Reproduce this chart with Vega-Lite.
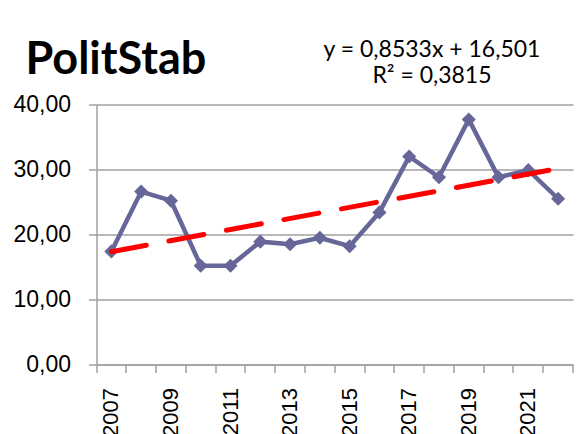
{
  "$schema": "https://vega.github.io/schema/vega-lite/v6.json",
  "autosize": {"type": "none"},
  "padding": {"left": 96.5, "top": 104.5, "right": 9, "bottom": 69.5},
  "width": 476.5,
  "height": 260,
  "background": "white",
  "title": {
    "text": "PolitStab",
    "anchor": "start",
    "frame": "group",
    "font": "Lato",
    "fontWeight": "bold",
    "fontSize": 45,
    "color": "black",
    "baseline": "alphabetic",
    "dx": -71,
    "offset": -80
  },
  "config": {
    "view": {"stroke": null},
    "axis": {
      "labelFont": "Liberation Sans",
      "labelFontSize": 23,
      "labelColor": "black",
      "domainColor": "#A0A0A0",
      "tickColor": "#A0A0A0",
      "gridColor": "#A0A0A0",
      "domainWidth": 1.5,
      "tickWidth": 1.5,
      "gridWidth": 1.5,
      "tickSize": 8,
      "title": null
    }
  },
  "datasets": {
    "series": [
      {"year": 2007, "value": 17.4},
      {"year": 2008, "value": 26.6},
      {"year": 2009, "value": 25.2},
      {"year": 2010, "value": 15.2},
      {"year": 2011, "value": 15.2},
      {"year": 2012, "value": 18.9},
      {"year": 2013, "value": 18.5},
      {"year": 2014, "value": 19.5},
      {"year": 2015, "value": 18.2},
      {"year": 2016, "value": 23.4},
      {"year": 2017, "value": 32.0},
      {"year": 2018, "value": 28.8},
      {"year": 2019, "value": 37.7},
      {"year": 2020, "value": 28.8},
      {"year": 2021, "value": 29.9},
      {"year": 2022, "value": 25.5}
    ],
    "trend": [
      {"year": 2007, "value": 17.35},
      {"year": 2022, "value": 30.15}
    ],
    "equation": [
      {"year": 2018, "value": 47.35, "label": "y = 0,8533x + 16,501"},
      {"year": 2018, "value": 43.25, "label": "R² = 0,3815"}
    ]
  },
  "encoding": {
    "x": {
      "field": "year",
      "type": "ordinal",
      "bandPosition": 0.5,
      "scale": {"type": "band", "paddingInner": 0, "paddingOuter": 0},
      "axis": {
        "labelAngle": -90,
        "labelFontSize": 22,
        "labelPadding": 15,
        "labelOverlap": false,
        "bandPosition": 1,
        "tickExtra": true,
        "labelExpr": "datum.value % 2 == 1 ? datum.label : ''",
        "grid": false
      }
    },
    "y": {
      "field": "value",
      "type": "quantitative",
      "scale": {"domain": [0, 40], "nice": false, "zero": true},
      "axis": {
        "values": [0, 10, 20, 30, 40],
        "labelExpr": "replace(format(datum.value, '.2f'), '.', ',')",
        "labelPadding": 18,
        "grid": true
      }
    }
  },
  "layer": [
    {
      "data": {"name": "series"},
      "mark": {
        "type": "line",
        "color": "#666699",
        "strokeWidth": 4.5,
        "point": {"shape": "diamond", "size": 200, "filled": true, "color": "#666699", "opacity": 1}
      }
    },
    {
      "data": {"name": "trend"},
      "mark": {
        "type": "line",
        "color": "#FF0000",
        "strokeWidth": 5,
        "strokeDash": [35.5, 23],
        "strokeCap": "round"
      }
    },
    {
      "data": {"name": "equation"},
      "mark": {
        "type": "text",
        "font": "Lato",
        "fontSize": 23,
        "color": "black",
        "align": "center",
        "baseline": "alphabetic",
        "dx": -7
      },
      "encoding": {
        "text": {"field": "label"}
      }
    }
  ]
}
